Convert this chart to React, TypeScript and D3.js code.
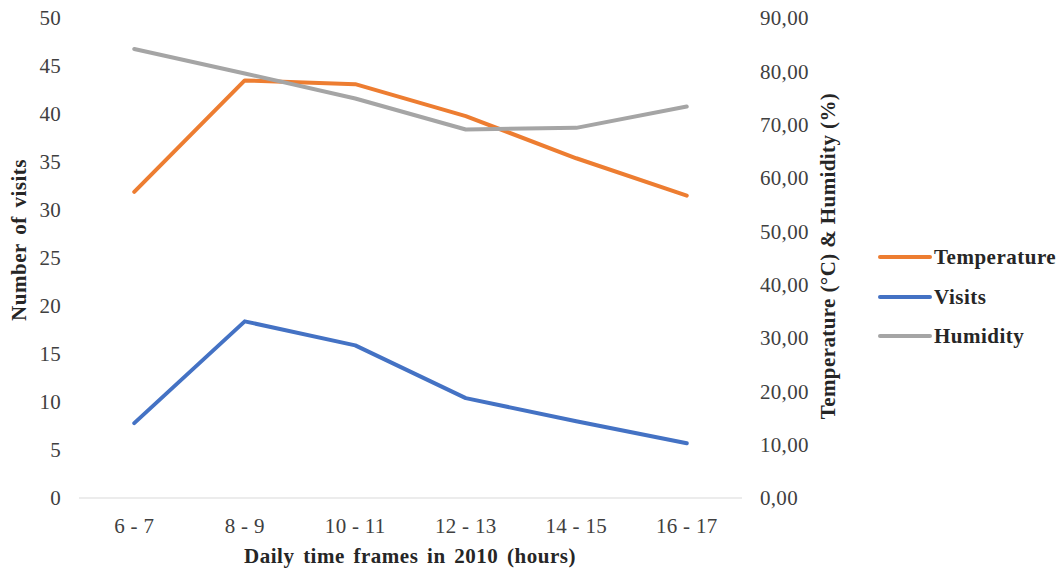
import React from "react";
import * as d3 from "d3";

const categories = ["6 - 7", "8 - 9", "10 - 11", "12 - 13", "14 - 15", "16 - 17"];
const visits = [7.8, 18.4, 15.9, 10.4, 8.0, 5.7];
const temperature = [57.4, 78.3, 77.6, 71.6, 63.7, 56.7];
const humidity = [84.2, 79.6, 74.9, 69.1, 69.4, 73.4];
const leftTicks = [0, 5, 10, 15, 20, 25, 30, 35, 40, 45, 50];
const rightTicks = [0, 10, 20, 30, 40, 50, 60, 70, 80, 90];

const W = 1061;
const H = 574;
const plot = { left: 79, right: 742, top: 18, bottom: 498 };
const FONT = "'Liberation Serif', 'Times New Roman', serif";
const TICK_SIZE = 21;
const TITLE_SIZE = 21;

const COLORS = { temperature: "#ED7D31", visits: "#4472C4", humidity: "#A5A5A5" };

export default function App() {
  const x = d3.scaleBand<string>().domain(categories).range([plot.left, plot.right]);
  const yL = d3.scaleLinear().domain([0, 50]).range([plot.bottom, plot.top]);
  const yR = d3.scaleLinear().domain([0, 90]).range([plot.bottom, plot.top]);
  const cx = (c: string) => (x(c) ?? 0) + x.bandwidth() / 2;

  const lineL = d3
    .line<number>()
    .x((_, i) => cx(categories[i]))
    .y((d) => yL(d));
  const lineR = d3
    .line<number>()
    .x((_, i) => cx(categories[i]))
    .y((d) => yR(d));

  const fmtR = (v: number) => v.toFixed(2).replace(".", ",");

  const series = [
    { name: "Temperature", color: COLORS.temperature, d: lineR(temperature) },
    { name: "Visits", color: COLORS.visits, d: lineL(visits) },
    { name: "Humidity", color: COLORS.humidity, d: lineR(humidity) },
  ];
  const legendY = [257, 297, 336];

  const tickStyle = { letterSpacing: "0.3px" };
  const titleStyle = { letterSpacing: "0.5px", wordSpacing: "3px" };
  const rightTitleStyle = { letterSpacing: "0.4px", wordSpacing: "0px" };

  return (
    <svg
      width={W}
      height={H}
      style={{ position: "absolute", left: 0, top: 0, background: "#fff" }}
      fontFamily={FONT}
    >
      {/* baseline */}
      <line x1={plot.left} x2={plot.right} y1={yL(0)} y2={yL(0)} stroke="#d9d9d9" strokeWidth={1} />

      {/* left axis labels */}
      {leftTicks.map((t) => (
        <text key={"l" + t} x={61} y={yL(t)} dy="0.35em" textAnchor="end" fontSize={TICK_SIZE} fill="#404040" style={tickStyle}>
          {t}
        </text>
      ))}

      {/* right axis labels */}
      {rightTicks.map((t) => (
        <text key={"r" + t} x={760} y={yR(t)} dy="0.35em" textAnchor="start" fontSize={TICK_SIZE} fill="#404040" style={tickStyle}>
          {fmtR(t)}
        </text>
      ))}

      {/* category labels */}
      {categories.map((c) => (
        <text key={c} x={cx(c)} y={533} textAnchor="middle" fontSize={TICK_SIZE} fill="#404040" style={tickStyle}>
          {c}
        </text>
      ))}

      {/* axis titles */}
      <text
        transform={`translate(26, 240) rotate(-90)`}
        textAnchor="middle"
        fontSize={TITLE_SIZE}
        fontWeight="bold"
        fill="#262626"
        style={titleStyle}
      >
        Number of visits
      </text>
      <text
        transform={`translate(835, 256) rotate(-90)`}
        textAnchor="middle"
        fontSize={TITLE_SIZE}
        fontWeight="bold"
        fill="#262626"
        style={rightTitleStyle}
      >
        Temperature (°C) &amp; Humidity (%)
      </text>
      <text x={410} y={563} textAnchor="middle" fontSize={TITLE_SIZE} fontWeight="bold" fill="#262626" style={titleStyle}>
        Daily time frames in 2010 (hours)
      </text>

      {/* series */}
      {series.map((s) => (
        <path
          key={s.name}
          d={s.d ?? ""}
          fill="none"
          stroke={s.color}
          strokeWidth={4}
          strokeLinecap="round"
          strokeLinejoin="round"
        />
      ))}

      {/* legend */}
      {series.map((s, i) => (
        <g key={"lg" + s.name}>
          <line x1={880} x2={930} y1={legendY[i]} y2={legendY[i]} stroke={s.color} strokeWidth={4} strokeLinecap="round" />
          <text x={934} y={legendY[i]} dy="0.35em" fontSize={TITLE_SIZE} fontWeight="bold" fill="#262626" style={titleStyle}>
            {s.name}
          </text>
        </g>
      ))}
    </svg>
  );
}
